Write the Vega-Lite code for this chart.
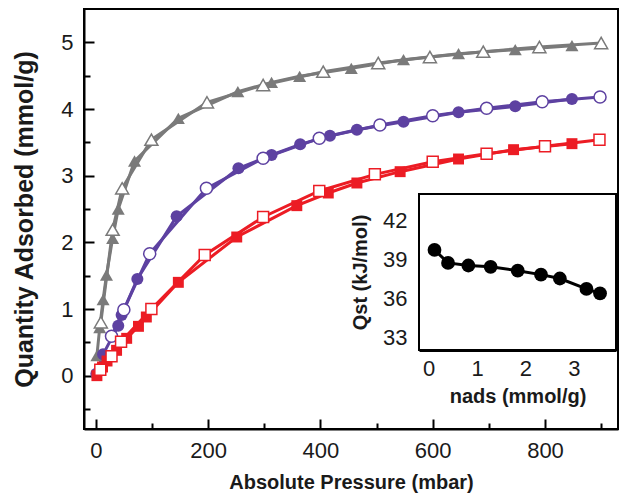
{
  "$schema": "https://vega.github.io/schema/vega-lite/v6.json",
  "width": 534,
  "height": 420,
  "autosize": {"type": "none"},
  "padding": {"left": 84, "top": 9, "right": 1, "bottom": 65},
  "background": "white",
  "config": {
    "view": {"stroke": "black", "strokeWidth": 2},
    "font": "Liberation Sans",
    "axis": {
      "grid": false,
      "zindex": 1,
      "labelOverlap": false,
      "domainColor": "black",
      "domainWidth": 2,
      "tickColor": "black",
      "tickWidth": 2,
      "labelFont": "Liberation Sans",
      "labelColor": "#1a1a1a",
      "titleFont": "Liberation Sans",
      "titleFontWeight": "bold",
      "titleColor": "#1a1a1a"
    }
  },
  "datasets": {
    "iso": [
      {"series": "T1", "phase": "ads", "p": 2, "q": 0.30},
      {"series": "T1", "phase": "ads", "p": 7, "q": 0.72},
      {"series": "T1", "phase": "ads", "p": 13, "q": 1.14},
      {"series": "T1", "phase": "ads", "p": 19, "q": 1.51},
      {"series": "T1", "phase": "ads", "p": 30, "q": 2.06},
      {"series": "T1", "phase": "ads", "p": 40, "q": 2.50},
      {"series": "T1", "phase": "ads", "p": 69, "q": 3.22},
      {"series": "T1", "phase": "ads", "p": 147, "q": 3.86},
      {"series": "T1", "phase": "ads", "p": 253, "q": 4.26},
      {"series": "T1", "phase": "ads", "p": 313, "q": 4.40},
      {"series": "T1", "phase": "ads", "p": 363, "q": 4.49},
      {"series": "T1", "phase": "ads", "p": 455, "q": 4.61},
      {"series": "T1", "phase": "ads", "p": 548, "q": 4.74},
      {"series": "T1", "phase": "ads", "p": 646, "q": 4.83},
      {"series": "T1", "phase": "ads", "p": 747, "q": 4.89},
      {"series": "T1", "phase": "ads", "p": 848, "q": 4.95},
      {"series": "T1", "phase": "des", "p": 900, "q": 4.99},
      {"series": "T1", "phase": "des", "p": 790, "q": 4.93},
      {"series": "T1", "phase": "des", "p": 690, "q": 4.86},
      {"series": "T1", "phase": "des", "p": 595, "q": 4.78},
      {"series": "T1", "phase": "des", "p": 503, "q": 4.69},
      {"series": "T1", "phase": "des", "p": 405, "q": 4.56},
      {"series": "T1", "phase": "des", "p": 298, "q": 4.36},
      {"series": "T1", "phase": "des", "p": 198, "q": 4.10},
      {"series": "T1", "phase": "des", "p": 99, "q": 3.54},
      {"series": "T1", "phase": "des", "p": 47, "q": 2.81},
      {"series": "T1", "phase": "des", "p": 30, "q": 2.19},
      {"series": "T1", "phase": "des", "p": 9, "q": 0.80},
      {"series": "T2", "phase": "ads", "p": 1, "q": 0.03},
      {"series": "T2", "phase": "ads", "p": 13, "q": 0.32},
      {"series": "T2", "phase": "ads", "p": 40, "q": 0.75},
      {"series": "T2", "phase": "ads", "p": 46, "q": 0.91},
      {"series": "T2", "phase": "ads", "p": 74, "q": 1.45},
      {"series": "T2", "phase": "ads", "p": 144, "q": 2.39},
      {"series": "T2", "phase": "ads", "p": 254, "q": 3.11},
      {"series": "T2", "phase": "ads", "p": 313, "q": 3.31},
      {"series": "T2", "phase": "ads", "p": 364, "q": 3.47},
      {"series": "T2", "phase": "ads", "p": 417, "q": 3.60},
      {"series": "T2", "phase": "ads", "p": 465, "q": 3.69},
      {"series": "T2", "phase": "ads", "p": 548, "q": 3.81},
      {"series": "T2", "phase": "ads", "p": 646, "q": 3.95},
      {"series": "T2", "phase": "ads", "p": 747, "q": 4.04},
      {"series": "T2", "phase": "ads", "p": 848, "q": 4.15},
      {"series": "T2", "phase": "des", "p": 898, "q": 4.18},
      {"series": "T2", "phase": "des", "p": 795, "q": 4.11},
      {"series": "T2", "phase": "des", "p": 696, "q": 4.01},
      {"series": "T2", "phase": "des", "p": 600, "q": 3.90},
      {"series": "T2", "phase": "des", "p": 506, "q": 3.76},
      {"series": "T2", "phase": "des", "p": 398, "q": 3.56},
      {"series": "T2", "phase": "des", "p": 298, "q": 3.26},
      {"series": "T2", "phase": "des", "p": 197, "q": 2.81},
      {"series": "T2", "phase": "des", "p": 96, "q": 1.83},
      {"series": "T2", "phase": "des", "p": 50, "q": 0.99},
      {"series": "T2", "phase": "des", "p": 28, "q": 0.59},
      {"series": "T3", "phase": "ads", "p": 2, "q": 0.0},
      {"series": "T3", "phase": "ads", "p": 12, "q": 0.13},
      {"series": "T3", "phase": "ads", "p": 20, "q": 0.22},
      {"series": "T3", "phase": "ads", "p": 37, "q": 0.38},
      {"series": "T3", "phase": "ads", "p": 55, "q": 0.56},
      {"series": "T3", "phase": "ads", "p": 76, "q": 0.74},
      {"series": "T3", "phase": "ads", "p": 90, "q": 0.88},
      {"series": "T3", "phase": "ads", "p": 147, "q": 1.40},
      {"series": "T3", "phase": "ads", "p": 251, "q": 2.08},
      {"series": "T3", "phase": "ads", "p": 358, "q": 2.55},
      {"series": "T3", "phase": "ads", "p": 414, "q": 2.74},
      {"series": "T3", "phase": "ads", "p": 465, "q": 2.89},
      {"series": "T3", "phase": "ads", "p": 542, "q": 3.06},
      {"series": "T3", "phase": "ads", "p": 646, "q": 3.25},
      {"series": "T3", "phase": "ads", "p": 744, "q": 3.39},
      {"series": "T3", "phase": "ads", "p": 848, "q": 3.48},
      {"series": "T3", "phase": "des", "p": 897, "q": 3.54},
      {"series": "T3", "phase": "des", "p": 800, "q": 3.44},
      {"series": "T3", "phase": "des", "p": 696, "q": 3.33},
      {"series": "T3", "phase": "des", "p": 600, "q": 3.21},
      {"series": "T3", "phase": "des", "p": 497, "q": 3.02},
      {"series": "T3", "phase": "des", "p": 398, "q": 2.77},
      {"series": "T3", "phase": "des", "p": 298, "q": 2.38},
      {"series": "T3", "phase": "des", "p": 194, "q": 1.81},
      {"series": "T3", "phase": "des", "p": 99, "q": 1.00},
      {"series": "T3", "phase": "des", "p": 45, "q": 0.51},
      {"series": "T3", "phase": "des", "p": 28, "q": 0.29},
      {"series": "T3", "phase": "des", "p": 8, "q": 0.09}
    ],
    "qst": [
      {"n": 0.12, "qst": 39.7},
      {"n": 0.40, "qst": 38.7},
      {"n": 0.82, "qst": 38.5},
      {"n": 1.28, "qst": 38.4},
      {"n": 1.84, "qst": 38.1},
      {"n": 2.32, "qst": 37.8},
      {"n": 2.71, "qst": 37.5},
      {"n": 3.26, "qst": 36.7},
      {"n": 3.54, "qst": 36.35}
    ],
    "frame": [
      {"n": -0.2, "n2": 3.87, "qst": 32, "qst2": 44}
    ]
  },
  "layer": [
    {
      "data": {"name": "iso"},
      "encoding": {
        "x": {
          "field": "p", "type": "quantitative",
          "scale": {"domain": [-21, 930], "nice": false, "zero": false},
          "axis": {
            "title": "Absolute Pressure (mbar)",
            "titleFontSize": 20,
            "titlePadding": 7,
            "labelFontSize": 22,
            "values": [0, 100, 200, 300, 400, 500, 600, 700, 800, 900],
            "labelExpr": "datum.value % 200 === 0 ? '' + datum.value : ''",
            "tickSize": {"condition": {"test": "datum.value % 200 === 0", "value": -10}, "value": -6},
            "labelPadding": 21
          }
        },
        "y": {
          "field": "q", "type": "quantitative",
          "scale": {"domain": [-0.8, 5.5], "nice": false, "zero": false},
          "axis": {
            "title": "Quantity Adsorbed (mmol/g)",
            "titleFontSize": 25,
            "titlePadding": 23,
            "labelFontSize": 22,
            "values": [-0.5, 0, 0.5, 1, 1.5, 2, 2.5, 3, 3.5, 4, 4.5, 5],
            "labelExpr": "datum.value % 1 === 0 ? '' + datum.value : ''",
            "tickSize": {"condition": {"test": "datum.value % 1 === 0", "value": -10}, "value": -6},
            "labelPadding": 21
          }
        },
        "color": {
          "field": "series", "type": "nominal",
          "scale": {"domain": ["T1", "T2", "T3"], "range": ["#7a7a7a", "#5d41a1", "#ec1c24"]},
          "legend": null
        }
      },
      "layer": [
        {
          "transform": [{"filter": "datum.phase === 'ads'"}],
          "mark": {"type": "line", "strokeWidth": 3}
        },
        {
          "transform": [{"filter": "datum.phase === 'des'"}],
          "mark": {"type": "line", "strokeWidth": 3}
        },
        {
          "transform": [{"filter": "datum.phase === 'ads'"}],
          "mark": {"type": "point", "filled": true, "opacity": 1},
          "encoding": {
            "shape": {"field": "series", "type": "nominal", "scale": {"domain": ["T1", "T2", "T3"], "range": ["triangle-up", "circle", "square"]}, "legend": null},
            "size": {"field": "series", "type": "nominal", "scale": {"domain": ["T1", "T2", "T3"], "range": [170, 120, 100]}, "legend": null}
          }
        },
        {
          "transform": [{"filter": "datum.phase === 'des'"}],
          "mark": {"type": "point", "filled": false, "fill": "white", "strokeWidth": 1.5, "opacity": 1},
          "encoding": {
            "shape": {"field": "series", "type": "nominal", "scale": {"domain": ["T1", "T2", "T3"], "range": ["triangle-up", "circle", "square"]}, "legend": null},
            "size": {"field": "series", "type": "nominal", "scale": {"domain": ["T1", "T2", "T3"], "range": [170, 120, 100]}, "legend": null}
          }
        }
      ]
    },
    {
      "encoding": {
        "x": {
          "field": "n", "type": "quantitative",
          "scale": {"domain": [-0.2, 3.87], "range": [335, 532], "nice": false, "zero": false},
          "axis": {
            "orient": "bottom",
            "offset": -78.5,
            "title": "nads (mmol/g)",
            "titleFontSize": 20,
            "titlePadding": 4,
            "labelFontSize": 22,
            "values": [0, 0.5, 1, 1.5, 2, 2.5, 3, 3.5],
            "labelExpr": "datum.value % 1 === 0 ? '' + datum.value : ''",
            "tickSize": {"condition": {"test": "datum.value % 1 === 0", "value": -9}, "value": -6},
            "labelPadding": 17
          }
        },
        "y": {
          "field": "qst", "type": "quantitative",
          "scale": {"domain": [32, 44], "range": [341, 185], "nice": false, "zero": false},
          "axis": {
            "orient": "left",
            "offset": -335,
            "title": "Qst (kJ/mol)",
            "titleFontSize": 20,
            "titlePadding": 12,
            "labelFontSize": 22,
            "values": [33, 34.5, 36, 37.5, 39, 40.5, 42, 43.5],
            "labelExpr": "datum.value % 3 === 0 ? '' + datum.value : ''",
            "tickSize": {"condition": {"test": "datum.value % 3 === 0", "value": -9}, "value": -6},
            "labelPadding": 21
          }
        }
      },
      "layer": [
        {
          "data": {"name": "frame"},
          "mark": {"type": "rect", "fill": "white", "stroke": "black", "strokeWidth": 2},
          "encoding": {"x2": {"field": "n2"}, "y2": {"field": "qst2"}}
        },
        {
          "data": {"name": "qst"},
          "mark": {"type": "line", "color": "black", "strokeWidth": 3}
        },
        {
          "data": {"name": "qst"},
          "mark": {"type": "circle", "color": "black", "size": 190, "opacity": 1}
        }
      ]
    }
  ],
  "resolve": {
    "scale": {"x": "independent", "y": "independent"},
    "axis": {"x": "independent", "y": "independent"}
  }
}
